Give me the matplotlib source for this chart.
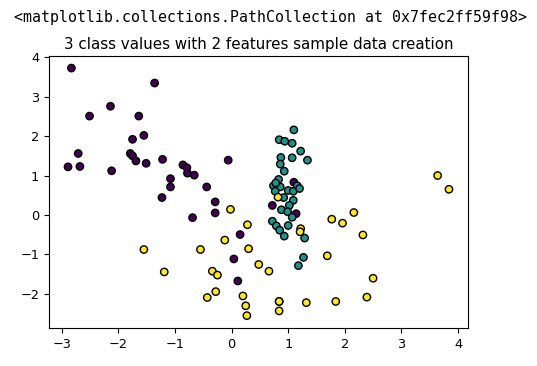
import numpy as np
import matplotlib
matplotlib.use("Agg")
import matplotlib.pyplot as plt

# class 0 (purple)
x0 = [-2.83, -1.36, -2.14, -2.51, -1.64, -1.55, -1.75, -2.71, -1.79, -1.75,
      -1.69, -1.51, -1.22, -2.89, -2.68, -2.12, -0.86, -0.79, -0.78, -0.66,
      -1.08, -1.08, -0.44, -1.23, -0.29, -0.06, -0.29, -0.69, 0.15, 0.04,
      0.11, 1.10, 0.72, 1.14]
y0 = [3.73, 3.35, 2.76, 2.51, 2.51, 2.02, 1.92, 1.56, 1.56, 1.50,
      1.37, 1.31, 1.41, 1.22, 1.23, 1.12, 1.27, 1.20, 1.06, 1.01,
      0.92, 0.71, 0.71, 0.44, 0.33, 1.39, 0.05, -0.07, -0.50, -1.12,
      -1.68, 0.83, 0.24, 0.03]

# class 1 (teal)
x1 = [1.10, 0.84, 0.94, 1.07, 1.22, 0.87, 1.07, 1.34, 0.86, 0.93,
      0.83, 0.74, 0.86, 0.77, 1.00, 1.09, 1.16, 1.20, 0.92, 1.09,
      1.02, 0.88, 0.99, 1.07, 1.00, 0.72, 0.79, 0.85, 0.93, 1.29,
      1.27, 1.18, 0.78]
y1 = [2.16, 1.91, 1.87, 1.82, 1.62, 1.46, 1.45, 1.39, 1.29, 1.11,
      0.90, 0.74, 0.71, 0.60, 0.62, 0.60, 0.74, 0.67, 0.44, 0.37,
      0.24, 0.13, 0.08, -0.06, -0.27, -0.16, -0.28, -0.39, -0.54, -0.59,
      -1.08, -1.29, 0.81]

# class 2 (yellow)
x2 = [-1.55, -0.55, -0.12, 0.30, -1.19, -0.34, -0.25, 0.48, 0.66, -0.28,
      -0.43, 0.20, 0.25, 0.27, 0.84, 0.84, -0.02, 0.28, 0.82, 1.22,
      1.21, 3.64, 3.84, 2.16, 1.77, 1.96, 2.32, 1.69, 2.50, 2.39,
      1.84, 1.32, 0.84]
y2 = [-0.88, -0.88, -0.64, -0.86, -1.45, -1.43, -1.53, -1.26, -1.43, -1.95,
      -2.10, -2.06, -2.31, -2.56, -2.20, -2.44, 0.14, -0.25, 0.45, -0.35,
      -0.43, 1.00, 0.65, 0.06, -0.11, -0.21, -0.51, -1.04, -1.61, -2.09,
      -2.20, -2.23, -2.20]

X = np.array([x0 + x1 + x2, y0 + y1 + y2]).T
labels = np.array([0] * len(x0) + [1] * len(x1) + [2] * len(x2))

fig = plt.figure(figsize=(5.37, 3.66), dpi=100)
ax = fig.add_axes([0.0912, 0.1038, 0.7803, 0.744])

fig.text(0.026, 0.953, "<matplotlib.collections.PathCollection at 0x7fec2ff59f98>",
         family="DejaVu Sans Mono", fontsize=10.75, va="center")

ax.set_title("3 class values with 2 features sample data creation", fontsize=10.9, pad=5)
ax.scatter(X[:, 0], X[:, 1], marker="o", c=labels, s=28, edgecolor="k", cmap="viridis")
ax.tick_params(labelsize=9.3)

fig.savefig("out.png", dpi=100)
